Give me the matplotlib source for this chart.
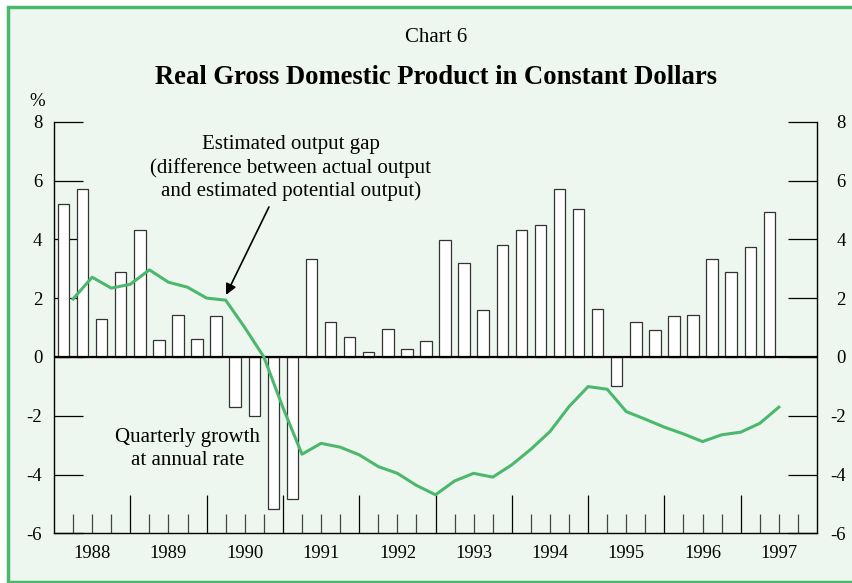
import matplotlib.pyplot as plt
import matplotlib.transforms as mtransforms
from matplotlib.patches import Rectangle
import numpy as np

plt.rcParams['font.family'] = ['Liberation Serif', 'DejaVu Serif']
plt.rcParams['axes.unicode_minus'] = False

# quarterly growth at annual rate, 1988Q1 .. 1997Q2
growth = [5.2, 5.7, 1.3, 2.9,
          4.3, 0.57, 1.44, 0.61,
          1.39, -1.72, -2.0, -5.19,
          -4.84, 3.32, 1.18, 0.66,
          0.17, 0.96, 0.26, 0.55,
          3.96, 3.21, 1.61, 3.81,
          4.33, 4.49, 5.71, 5.03,
          1.62, -0.99, 1.19, 0.93,
          1.38, 1.43, 3.33, 2.9,
          3.73, 4.93]
# estimated output gap, end of each quarter
gap = [1.97, 2.71, 2.34, 2.47,
       2.96, 2.54, 2.37, 2.0,
       1.93, 1.0, 0.0, -1.72,
       -3.31, -2.94, -3.07, -3.33,
       -3.73, -3.96, -4.37, -4.69,
       -4.22, -3.96, -4.09, -3.67,
       -3.14, -2.54, -1.69, -1.01,
       -1.1, -1.86, -2.12, -2.39,
       -2.62, -2.88, -2.65, -2.56,
       -2.26, -1.71]
years = ['1988', '1989', '1990', '1991', '1992', '1993', '1994', '1995', '1996', '1997']
yvals = [-6, -4, -2, 0, 2, 4, 6, 8]

green = '#4cb86c'
bg = '#edf7ef'

fig = plt.figure(figsize=(8.53, 5.83), dpi=100)
fig.patch.set_facecolor('white')
# background panel with green frame
fig.patches.append(Rectangle((8/853, 1-582/583), 850/853, 575/583, transform=fig.transFigure,
                             facecolor=bg, edgecolor=green, linewidth=2.5, zorder=-1))

ax = fig.add_axes([54/853, 1-533.3/583, 763/853, (533.3-121.7)/583])
ax.set_facecolor(bg)

q = np.arange(len(growth))
ax.bar(q + 0.5, growth, width=0.6, color='white', edgecolor='#333333', linewidth=0.9, zorder=2)
ax.axhline(0, color='black', linewidth=1.6, zorder=3)
ax.plot(q + 1, gap, color=green, linewidth=2.2, zorder=4)

ax.set_xlim(0, 40)
ax.set_ylim(-6, 8)
ax.spines['top'].set_visible(False)
for s in ['left', 'right', 'bottom']:
    ax.spines[s].set_linewidth(1.0)

ax.set_yticks(yvals)
ax.set_yticklabels([str(v) for v in yvals])
ax.tick_params(axis='y', direction='in', length=21, width=0.9, labelsize=13.5,
               left=True, right=True, labelleft=True, labelright=False, pad=8.5)
# right-hand labels, right aligned like the original
rtrans = mtransforms.blended_transform_factory(ax.transAxes, ax.transData)
for v in yvals:
    ax.text(1 + 29/763, v, str(v), transform=rtrans, ha='right', va='center_baseline',
            fontsize=13.5)

ax.set_xticks(range(4, 40, 4))
ax.set_xticks([i for i in range(1, 40) if i % 4 != 0], minor=True)
ax.tick_params(axis='x', which='major', direction='in', length=27.5, width=0.9, labelbottom=False)
ax.tick_params(axis='x', which='minor', direction='in', length=14, width=0.9, color='#444444')

trans = mtransforms.blended_transform_factory(ax.transData, ax.transAxes)
for i, yr in enumerate(years):
    ax.text(4 * i + 2, -0.05, yr, transform=trans, ha='center', va='center', fontsize=13.3)

fig.text(37.5/853, 1-101/583, '%', ha='center', va='center', fontsize=13.5)
fig.text(436/853, 1-38/583, 'Chart 6', ha='center', va='center', fontsize=15)
fig.text(436/853, 1-77/583, 'Real Gross Domestic Product in Constant Dollars',
         ha='center', va='center', fontsize=19.2, fontweight='bold')

ax.text(12.42, 6.42, 'Estimated output gap\n(difference between actual output\nand estimated potential output)',
        ha='center', va='center', fontsize=15, linespacing=1.25)
ax.annotate('', xy=(9.02, 2.11), xytext=(11.27, 5.10),
            arrowprops=dict(arrowstyle='-|>', color='black', lw=1.2, mutation_scale=16,
                            shrinkA=0, shrinkB=0))
ax.text(7.0, -3.13, 'Quarterly growth\nat annual rate', ha='center', va='center',
        fontsize=15, linespacing=1.25)

fig.savefig('out.png', dpi=100, facecolor=fig.get_facecolor())
